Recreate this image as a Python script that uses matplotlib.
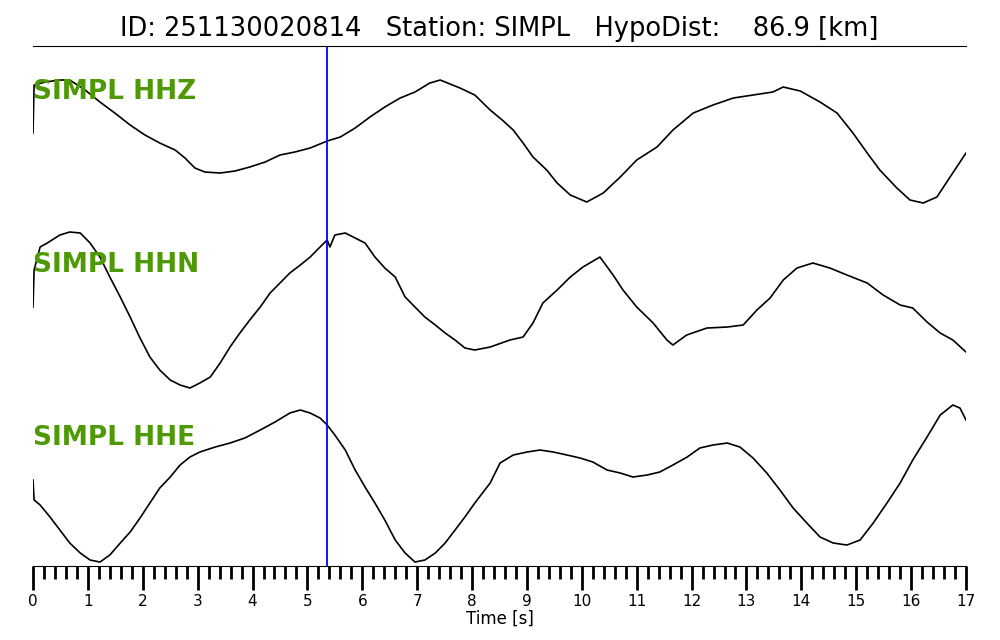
import numpy as np
from matplotlib import pyplot as plt
from matplotlib.ticker import MultipleLocator

# event info shown in the title
event_id = '251130020814'
station = 'SIMPL'
hypo_dist = 86.9
p_pick = 5.36  # [s]

channels = ['HHZ', 'HHN', 'HHE']

# traces (time [s], amplitude [arbitrary counts])
t_hhz = [0, 0.02, 0.22, 0.49, 0.67, 0.95, 1.22, 1.49, 1.77, 2.04,
         2.31, 2.59, 2.77, 2.95, 3.13, 3.41, 3.68, 3.95, 4.23, 4.5,
         4.77, 5.05, 5.36, 5.6, 5.87, 6.14, 6.41, 6.69, 6.96, 7.23,
         7.42, 7.78, 8.05, 8.33, 8.55, 8.75, 8.93, 9.11, 9.36, 9.55,
         9.79, 10.09, 10.39, 10.7, 11.0, 11.37, 11.66, 12.03, 12.39, 12.76,
         13.12, 13.48, 13.67, 13.98, 14.34, 14.65, 14.94, 15.2, 15.43, 15.74,
         15.98, 16.22, 16.47, 16.71, 17.0]
a_hhz = [8, 56, 59, 61, 61, 51, 39, 28, 16, 6,
         -2, -9, -17, -27, -31, -32, -30, -26, -21, -14,
         -11, -7, 0, 4, 13, 24, 34, 43, 49, 58,
         61, 53, 46, 31, 21, 11, -2, -16, -29, -42,
         -54, -61, -52, -36, -19, -6, 11, 28, 36, 43,
         46, 49, 54, 50, 39, 28, 8, -12, -29, -47,
         -59, -62, -56, -36, -12]

t_hhn = [0, 0.02, 0.13, 0.26, 0.49, 0.67, 0.86, 1.04, 1.22, 1.4,
         1.59, 1.77, 1.95, 2.13, 2.31, 2.5, 2.68, 2.86, 3.04, 3.23,
         3.41, 3.59, 3.77, 3.95, 4.14, 4.32, 4.5, 4.68, 4.87, 5.05,
         5.23, 5.36, 5.41, 5.5, 5.69, 5.87, 6.05, 6.23, 6.41, 6.6,
         6.78, 6.96, 7.14, 7.33, 7.51, 7.69, 7.87, 8.05, 8.33, 8.69,
         8.93, 9.11, 9.29, 9.55, 9.79, 10.02, 10.33, 10.57, 10.75, 11.0,
         11.3, 11.55, 11.66, 11.91, 12.28, 12.65, 12.94, 13.19, 13.43, 13.67,
         13.92, 14.21, 14.52, 14.83, 15.2, 15.49, 15.8, 16.03, 16.29, 16.53,
         16.76, 17.0]
a_hhn = [7, 44, 67, 71, 79, 82, 81, 71, 57, 37,
         17, -3, -24, -43, -56, -66, -71, -74, -69, -63,
         -49, -33, -19, -6, 7, 21, 31, 41, 49, 57,
         67, 74, 67, 79, 81, 76, 71, 57, 46, 37,
         17, 7, -3, -11, -19, -26, -34, -36, -33, -26,
         -23, -9, 11, 24, 37, 47, 57, 39, 24, 7,
         -9, -26, -31, -21, -14, -13, -11, 4, 16, 34,
         46, 51, 46, 39, 31, 19, 9, 6, -8, -19,
         -26, -38]

t_hhe = [0, 0.02, 0.13, 0.31, 0.49, 0.67, 0.86, 1.04, 1.22, 1.4,
         1.59, 1.77, 1.95, 2.13, 2.31, 2.5, 2.68, 2.86, 3.04, 3.32,
         3.59, 3.86, 4.14, 4.41, 4.68, 4.87, 5.05, 5.23, 5.36, 5.5,
         5.69, 5.87, 6.05, 6.23, 6.41, 6.6, 6.78, 6.96, 7.14, 7.33,
         7.51, 7.69, 7.87, 8.05, 8.33, 8.51, 8.75, 9.0, 9.24, 9.48,
         9.73, 9.97, 10.2, 10.46, 10.7, 10.93, 11.19, 11.42, 11.66, 11.92,
         12.15, 12.39, 12.65, 12.88, 13.12, 13.37, 13.61, 13.85, 14.1, 14.34,
         14.58, 14.83, 15.07, 15.31, 15.56, 15.8, 16.03, 16.29, 16.53, 16.76,
         16.89, 17.0]
a_hhe = [7, -13, -18, -30, -43, -56, -66, -73, -75, -68,
         -56, -45, -31, -16, -1, 10, 22, 30, 35, 40,
         44, 49, 57, 65, 74, 77, 74, 69, 62, 52,
         37, 17, 0, -16, -33, -53, -66, -75, -73, -66,
         -56, -43, -30, -16, 4, 24, 32, 35, 37, 35,
         32, 29, 25, 17, 14, 10, 12, 15, 22, 30,
         39, 42, 44, 40, 29, 14, -3, -21, -36, -50,
         -56, -58, -53, -36, -16, 4, 27, 50, 72, 82,
         79, 67]

# vertical spacing between the traces (same units as amplitudes)
trace_gap = 173


def main():
    traces = [(t_hhz, a_hhz), (t_hhn, a_hhn), (t_hhe, a_hhe)]

    fig = plt.figure(figsize=(10, 6.4), dpi=100)
    ax = fig.add_axes([0.033, 0.1156, 0.933, 0.8125])

    # plot the traces stacked from top to bottom
    for i, (t, a) in enumerate(traces):
        offset = -i * trace_gap
        ax.plot(t, np.array(a) + offset, color='black', linewidth=1.2)
        ax.text(0, offset + 49, f'{station} {channels[i]}', color='#4e9a06',
                fontsize=19, fontweight='bold', ha='left', va='center')

    # p-wave pick
    ax.axvline(p_pick, color='blue', linewidth=1.3)

    # format axes
    ax.set_xlim(0, 17)
    ax.set_ylim(-2 * trace_gap - 79, 95)
    ax.spines['left'].set_visible(False)
    ax.spines['right'].set_visible(False)
    ax.set_yticks([])
    ax.xaxis.set_major_locator(MultipleLocator(1))
    ax.xaxis.set_minor_locator(MultipleLocator(0.2))
    ax.tick_params(axis='x', which='major', length=17, width=2, pad=3, labelsize=11)
    ax.tick_params(axis='x', which='minor', length=9, width=2)
    ax.set_xlabel('Time [s]', fontsize=12, labelpad=1)

    ax.set_title(f'ID: {event_id}   Station: {station}   HypoDist:    {hypo_dist:.1f} [km]',
                 fontsize=18.5, pad=7)

    fig.savefig('out.png', dpi=100)


if __name__ == '__main__':
    main()
